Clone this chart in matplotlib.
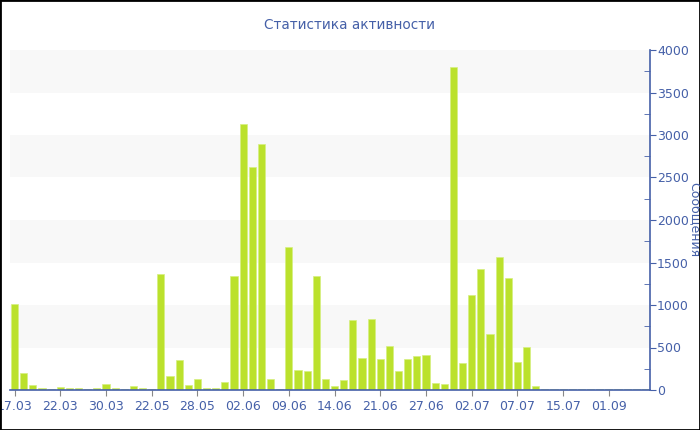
import matplotlib
matplotlib.use("Agg")
import matplotlib.pyplot as plt
from matplotlib.ticker import MultipleLocator, FixedLocator
from matplotlib.patches import Rectangle

# ---- data ----
messages = [1010, 204, 55, 20, 12, 31, 20, 27, 15, 24,
            75, 24, 15, 51, 20, 15, 1365, 169, 349, 55,
            125, 27, 20, 98, 1341, 3125, 2627, 2890, 125, 8,
            1682, 235, 228, 1341, 125, 47, 113, 820, 372, 835,
            360, 522, 228, 360, 396, 412, 78, 68, 3796, 322,
            1113, 1423, 659, 1569, 1322, 325, 502, 51, 10, 10,
            10, 10, 10, 10, 10, 10, 10, 10, 10, 10]
tick_labels = ["17.03", "22.03", "30.03", "22.05", "28.05", "02.06", "09.06",
               "14.06", "21.06", "27.06", "02.07", "07.07", "15.07", "01.09"]
title = "Статистика активности"
ylabel = "Сообщения"

blue = "#4560a8"
bar_color = "#bbe12c"

fig = plt.figure(figsize=(7, 4.3), dpi=100)
ax = fig.add_axes([10 / 700, 1 - 390 / 430, 640 / 700, 340 / 430])

x = list(range(len(messages)))
ax.set_xlim(-0.5, len(messages) - 0.5)
ax.set_ylim(0, 4000)

# alternating bands
for lo in (500, 1500, 2500, 3500):
    ax.axhspan(lo, lo + 500, color="#f8f8f8", zorder=0, lw=0)

ax.bar(x, messages, width=0.78, color=bar_color, edgecolor="#d6ef80",
       linewidth=0.5, zorder=2)

for s in ("top", "left"):
    ax.spines[s].set_visible(False)
ax.spines["right"].set_color(blue)
ax.spines["bottom"].set_color(blue)
ax.spines["right"].set_linewidth(1.2)
ax.spines["bottom"].set_linewidth(1.2)

ax.yaxis.tick_right()
ax.yaxis.set_major_locator(MultipleLocator(500))
ax.yaxis.set_minor_locator(MultipleLocator(250))
ax.tick_params(axis="y", which="major", direction="out", length=4, color=blue,
               labelcolor=blue, labelsize=9, pad=1)
ax.tick_params(axis="y", which="minor", direction="in", length=4, color=blue)

pos = list(range(0, len(messages), 5))[:len(tick_labels)]
ax.xaxis.set_major_locator(FixedLocator(pos))
ax.set_xticklabels(tick_labels)
ax.tick_params(axis="x", which="major", direction="out", length=4, color="#888888",
               labelcolor=blue, labelsize=9, pad=3)

fig.text(694 / 700, 1 - 220 / 430, ylabel, rotation=-90, ha="center",
         va="center", color=blue, fontsize=9)

fig.text(350 / 700, 1 - 25 / 430, title, ha="center", va="center",
         color=blue, fontsize=9.8)

fig.patches.append(Rectangle((0, 0), 1, 1, transform=fig.transFigure,
                             fill=False, edgecolor="black", linewidth=2))

fig.savefig("out.png", dpi=100)
